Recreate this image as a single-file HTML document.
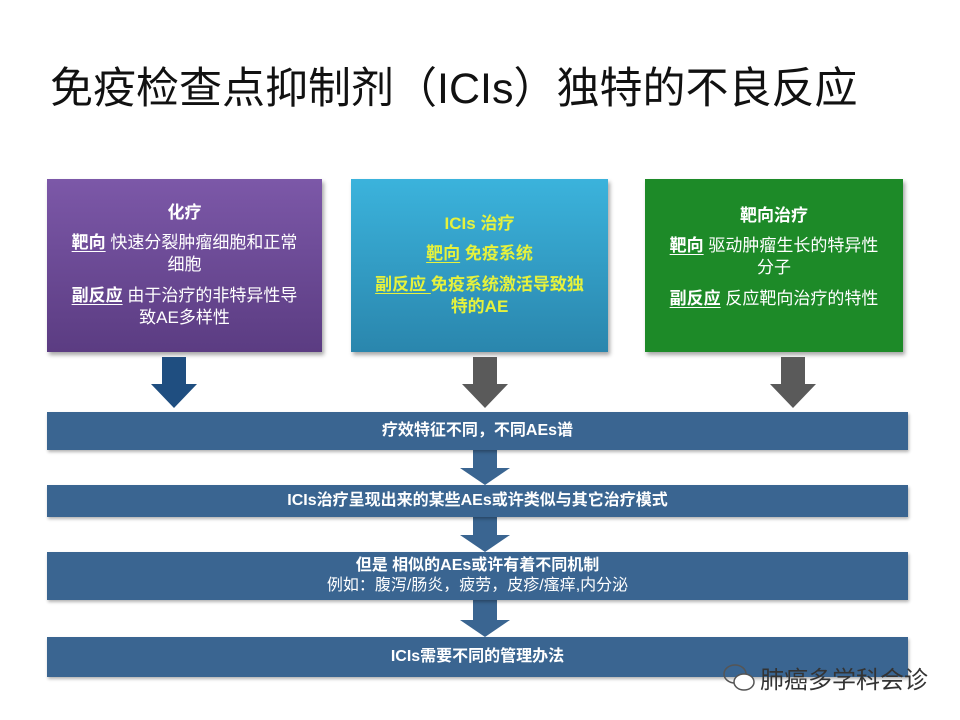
<!DOCTYPE html>
<html><head><meta charset="utf-8"><style>
body{margin:0;width:960px;height:720px;background:#fff;position:relative;overflow:hidden;font-family:"Liberation Sans","Noto Sans CJK SC",sans-serif}
.a{position:absolute}
.box{position:absolute;top:179px;height:173px;box-shadow:2px 3px 4px rgba(0,0,0,.35);color:#fff;text-align:center;font-size:17px;line-height:22px;box-sizing:border-box}
.box p{margin:0}
u{text-underline-offset:3px}
.bar{position:absolute;left:47px;width:861px;background:#3a6591;color:#fff;font-weight:bold;text-align:center;font-size:16px;box-shadow:1px 2px 3px rgba(0,0,0,.3)}
</style></head><body>
<div class="a" style="left:50px;top:54px;font-size:43px;color:#111;white-space:nowrap">免疫检查点抑制剂（ICIs）独特的不良反应</div>

<div class="box" style="left:47px;width:275px;background:linear-gradient(#7c58a8,#5b3c82);padding-top:23px">
<p style="font-weight:bold">化疗</p>
<p style="margin-top:8px"><b><u>靶向</u></b> 快速分裂肿瘤细胞和正常<br>细胞</p>
<p style="margin-top:9px"><b><u>副反应</u></b> 由于治疗的非特异性导<br>致AE多样性</p>
</div>
<div class="box" style="left:351px;width:257px;background:linear-gradient(#3bb3dc,#2a86ad);color:#e6f23c;font-weight:bold;padding-top:34px">
<p>ICIs 治疗</p>
<p style="margin-top:8px"><u>靶向</u> 免疫系统</p>
<p style="margin-top:9px"><u>副反应 </u>免疫系统激活导致独<br>特的AE</p>
</div>
<div class="box" style="left:645px;width:258px;background:#1d8a28;padding-top:26px">
<p style="font-weight:bold">靶向治疗</p>
<p style="margin-top:8px"><b><u>靶向</u></b> 驱动肿瘤生长的特异性<br>分子</p>
<p style="margin-top:9px"><b><u>副反应</u></b> 反应靶向治疗的特性</p>
</div>

<svg class="a" style="left:0;top:0" width="960" height="720">
<polygon points="162,357 186,357 186,384 197,384 174,408 151,384 162,384" fill="#1f4e80"/>
<polygon points="473,357 497,357 497,384 508,384 485,408 462,384 473,384" fill="#5a5a5a"/>
<polygon points="781,357 805,357 805,384 816,384 793,408 770,384 781,384" fill="#5a5a5a"/>
<polygon points="473,450 497,450 497,468 510,468 485,485 460,468 473,468" fill="#3a6591"/>
<polygon points="473,517 497,517 497,535 510,535 485,552 460,535 473,535" fill="#3a6591"/>
<polygon points="473,600 497,600 497,620 510,620 485,637 460,620 473,620" fill="#3a6591"/>
</svg>

<div class="bar" style="top:412px;height:38px;line-height:38px">疗效特征不同，不同AEs谱</div>
<div class="bar" style="top:485px;height:32px;line-height:32px">ICIs治疗呈现出来的某些AEs或许类似与其它治疗模式</div>
<div class="bar" style="top:552px;height:48px;padding-top:4px;box-sizing:border-box;line-height:20px">但是 相似的AEs或许有着不同机制<br><span style="font-weight:normal">例如：腹泻/肠炎，疲劳，皮疹/瘙痒,内分泌</span></div>
<div class="bar" style="top:637px;height:40px;line-height:40px">ICIs需要不同的管理办法</div>

<svg class="a" style="left:722px;top:662px" width="36" height="32"><ellipse cx="13" cy="12" rx="11" ry="9" fill="none" stroke="#555" stroke-width="1.5"/><ellipse cx="22" cy="20" rx="10" ry="8" fill="#fff" stroke="#555" stroke-width="1.5"/></svg>
<div class="a" style="left:760px;top:660px;font-size:24px;color:#333;white-space:nowrap">肺癌多学科会诊</div>
</body></html>
